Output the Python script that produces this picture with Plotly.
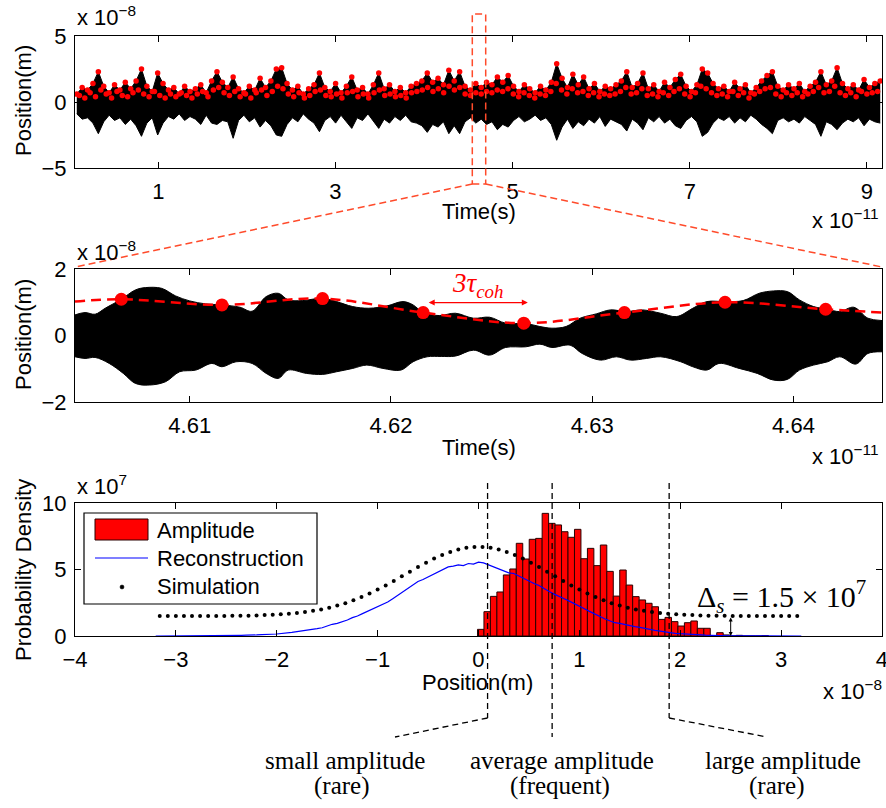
import numpy as np
import plotly.graph_objects as go

# ---------------- data ----------------
# top panel: full time trace (x 1e-11 s), envelope samples (x 1e-8 m)
top_t_range = [0.08, 9.15]
top_upper = [
    0.6, 1.1, 0.9, 1.4, 2.3, 1.2, 0.7, 1.3, 0.9, 1.5,
    1.0, 1.6, 2.5, 1.2, 0.8, 2.2, 1.4, 0.9, 1.1, 0.6,
    1.2, 0.8, 1.0, 1.3, 0.7, 1.6, 2.3, 1.5, 1.1, 1.9,
    1.0, 0.7, 1.2, 0.9, 1.8, 1.1, 1.6, 2.5, 2.6, 1.4,
    0.9, 1.2, 0.6, 1.0, 1.3, 2.2, 1.1, 0.8, 1.4, 0.7,
    1.2, 1.9, 0.9, 1.1, 0.6, 1.3, 2.2, 1.0, 1.3, 0.8,
    1.1, 0.7, 1.2, 1.4, 1.6, 2.2, 1.5, 1.8, 1.3, 2.4,
    1.6, 2.3, 1.2, 0.9, 1.4, 1.1, 1.5, 1.3, 1.9, 1.5,
    2.0, 1.2, 0.8, 1.3, 1.0, 0.7, 1.2, 0.9, 1.5, 2.9,
    1.8, 1.1, 2.1, 1.3, 1.9, 1.0, 1.4, 0.8, 1.2, 1.0,
    1.3, 1.6, 2.3, 1.1, 1.4, 2.2, 1.0, 1.3, 0.8, 1.5,
    1.1, 1.7, 2.1, 1.2, 0.8, 1.3, 2.5, 2.2, 1.4, 1.0,
    1.2, 0.8, 1.5, 1.0, 1.3, 0.7, 1.1, 1.6, 2.0, 2.3,
    1.2, 0.9, 1.3, 1.0, 1.4, 0.8, 1.2, 1.5, 2.3, 1.3,
    1.6, 2.6, 1.4, 1.0, 1.3, 0.9, 1.7, 1.1, 1.4, 1.6,
]
top_lower = [
    -0.9, -1.3, -1.2, -1.6, -2.4, -1.5, -1.0, -1.4, -1.2, -1.7,
    -1.3, -1.8, -2.6, -1.6, -1.2, -2.5, -1.6, -1.1, -1.3, -0.9,
    -1.4, -1.1, -1.3, -1.7, -1.0, -1.6, -1.7, -1.4, -1.5, -2.75,
    -1.4, -1.0, -1.5, -1.2, -1.9, -1.4, -1.8, -2.5, -2.6, -1.7,
    -1.2, -1.5, -0.9, -1.3, -1.6, -2.25, -1.4, -1.1, -1.6, -1.0,
    -1.5, -2.0, -1.2, -1.4, -0.9, -1.5, -2.0, -1.3, -1.6, -1.1,
    -1.4, -1.0, -1.5, -1.6, -1.8, -2.3, -1.7, -1.9, -1.5, -2.4,
    -1.8, -2.4, -1.5, -1.2, -1.6, -1.3, -1.7, -1.5, -2.1, -1.7,
    -1.9, -1.4, -1.1, -1.5, -1.3, -1.0, -1.4, -1.2, -1.7, -2.9,
    -1.9, -1.3, -2.0, -1.5, -1.8, -1.3, -1.6, -1.1, -1.85, -1.3,
    -1.5, -1.7, -2.2, -1.3, -1.6, -2.1, -1.2, -1.5, -1.1, -1.6,
    -1.3, -1.8, -2.0, -1.4, -1.1, -1.5, -2.6, -2.3, -1.6, -1.2,
    -1.4, -1.1, -1.6, -1.2, -1.5, -1.0, -1.3, -1.7, -2.0, -2.4,
    -1.4, -1.2, -1.5, -1.3, -1.6, -1.1, -1.4, -1.7, -2.6, -1.5,
    -1.7, -2.1, -1.6, -1.3, -1.5, -1.2, -1.8, -1.3, -1.5, -1.6,
]
# intermediate envelope samples (between the ones above)
top_mid_t_range = [0.11, 9.12]
top_mid_dots = [
    0.5, 0.3, 0.7, 0.4, 0.9, 0.6, 0.3, 0.8, 0.5, 0.4,
    0.7, 0.9, 0.6, 0.4, 0.8, 0.5, 0.3, 0.6, 0.4, 0.7,
    0.5, 0.3, 0.6, 0.8, 0.4, 0.9, 1.1, 0.7, 0.5, 0.8,
    0.4, 0.6, 0.3, 0.7, 0.9, 0.5, 0.8, 1.2, 1.0, 0.6,
    0.4, 0.7, 0.3, 0.5, 0.8, 0.9, 0.5, 0.4, 0.6, 0.3,
    0.7, 0.8, 0.4, 0.6, 0.3, 0.7, 0.9, 0.5, 0.6, 0.4,
    0.5, 0.3, 0.7, 0.8, 0.9, 1.1, 0.8, 1.0, 0.7, 1.2,
    0.9, 1.1, 0.6, 0.5, 0.7, 0.6, 0.8, 0.7, 0.9, 0.8,
    1.0, 0.6, 0.4, 0.7, 0.5, 0.3, 0.6, 0.5, 0.8, 1.4,
    0.9, 0.6, 1.0, 0.7, 0.8, 0.5, 0.7, 0.4, 0.6, 0.5,
    0.6, 0.8, 1.1, 0.6, 0.7, 1.0, 0.5, 0.6, 0.4, 0.7,
    0.5, 0.8, 1.0, 0.6, 0.4, 0.7, 1.2, 1.0, 0.7, 0.5,
    0.6, 0.4, 0.8, 0.5, 0.7, 0.3, 0.6, 0.8, 1.0, 1.1,
    0.6, 0.4, 0.7, 0.5, 0.7, 0.4, 0.6, 0.8, 1.1, 0.7,
    0.8, 1.2, 0.7, 0.5, 0.7, 0.4, 0.8, 0.6, 0.7, 0.8,
]

# middle panel: zoom on 4.604-4.644 (x 1e-11 s)
mid_up_t = [4.6043, 4.6048, 4.6053, 4.6058, 4.6066, 4.6073, 4.6078, 4.6086, 4.6093, 4.6100,
            4.6108, 4.6116, 4.6125, 4.6131, 4.6138, 4.6144, 4.6149, 4.6156, 4.6166, 4.6173,
            4.6181, 4.6189, 4.6198, 4.6206, 4.6211, 4.6216, 4.6224, 4.6232, 4.6241, 4.6249,
            4.6257, 4.6267, 4.6274, 4.6280, 4.6287, 4.6294, 4.6302, 4.6309, 4.6317, 4.6325,
            4.6334, 4.6342, 4.6350, 4.6357, 4.6366, 4.6375, 4.6383, 4.6390, 4.6397, 4.6403,
            4.6410, 4.6417, 4.6423, 4.6430, 4.6437, 4.6444]
mid_up = [0.62, 0.69, 0.64, 0.82, 1.09, 1.37, 1.44, 1.42, 1.19, 1.04,
          0.95, 0.92, 0.85, 0.73, 1.17, 1.27, 1.07, 1.05, 1.12, 1.02,
          0.87, 0.82, 0.89, 1.02, 0.92, 0.69, 0.60, 0.67, 0.52, 0.55,
          0.37, 0.36, 0.27, 0.22, 0.27, 0.52, 0.65, 0.77, 0.72, 0.77,
          0.67, 0.57, 0.82, 1.02, 1.02, 1.05, 1.27, 1.34, 1.32, 1.07,
          0.87, 0.79, 0.72, 0.85, 0.52, 0.45]
mid_lo_t = [4.6043, 4.6048, 4.6053, 4.6060, 4.6067, 4.6073, 4.6080, 4.6088, 4.6095, 4.6103,
            4.6111, 4.6116, 4.6123, 4.6131, 4.6138, 4.6144, 4.6149, 4.6158, 4.6166, 4.6173,
            4.6181, 4.6188, 4.6196, 4.6205, 4.6211, 4.6218, 4.6225, 4.6232, 4.6241, 4.6249,
            4.6257, 4.6267, 4.6274, 4.6280, 4.6289, 4.6295, 4.6304, 4.6312, 4.6319, 4.6327,
            4.6334, 4.6344, 4.6350, 4.6357, 4.6363, 4.6373, 4.6382, 4.6390, 4.6397, 4.6403,
            4.6410, 4.6417, 4.6423, 4.6431, 4.6437, 4.6444]
mid_lo = [-0.64, -0.69, -0.66, -0.84, -1.14, -1.44, -1.49, -1.39, -1.09, -1.04,
          -0.84, -0.94, -0.79, -0.84, -1.14, -1.29, -1.04, -1.14, -1.17, -1.09,
          -0.99, -0.89, -0.99, -1.04, -0.79, -0.64, -0.63, -0.62, -0.44, -0.59,
          -0.36, -0.34, -0.26, -0.36, -0.29, -0.54, -0.74, -0.64, -0.74, -0.69,
          -0.64, -0.79, -0.94, -1.04, -0.84, -0.99, -1.14, -1.34, -1.32, -1.04,
          -0.89, -0.79, -0.64, -0.86, -0.54, -0.49]
mid_dot_t = [4.6066, 4.6116, 4.6166, 4.6216, 4.6266, 4.6316, 4.6366, 4.6416]
mid_dot_v = [1.09, 0.92, 1.11, 0.69, 0.37, 0.69, 1.00, 0.79]
mid_curve_t = [4.6043] + mid_dot_t + [4.6444]
mid_curve_v = [1.02] + mid_dot_v + [0.69]
tau_span = [4.6218, 4.6268]

# bottom panel: probability densities (x 1e7) vs position (x 1e-8 m)
hist_start = -0.01
hist_width = 0.0641
hist_vals = [0.5, 1.83, 2.98, 3.31, 4.59, 5.04, 6.97, 5.79, 7.27, 7.34,
             9.22, 8.47, 8.35, 7.84, 7.42, 8.02, 5.81, 6.59, 5.29, 6.84,
             4.86, 3.0, 4.96, 3.83, 2.96, 2.71, 2.46, 2.2, 1.25, 1.40,
             1.08, 0.75, 1.0, 1.13, 0.58, 0.58, 0.0, 0.25, 0.08, 0.0,
             0.05, 0.0, 0.0, 0.0, 0.03]
recon_range = [-3.2, 3.2]
recon_vals = [0.00, 0.00, 0.00, 0.01, 0.00, 0.01, 0.01, 0.00, 0.01, 0.02,
              0.01, 0.02, 0.02, 0.03, 0.02, 0.04, 0.03, 0.05, 0.06, 0.05,
              0.08, 0.10, 0.09, 0.13, 0.15, 0.18, 0.22, 0.27, 0.33, 0.40,
              0.43, 0.50, 0.55, 0.62, 0.75, 0.88, 0.95, 1.05, 1.20, 1.38,
              1.50, 1.68, 1.85, 1.98, 2.15, 2.32, 2.55, 2.80, 3.05, 3.35,
              3.60, 3.85, 4.10, 4.25, 4.45, 4.65, 4.85, 5.05, 5.20, 5.25,
              5.35, 5.30, 5.45, 5.40, 5.55, 5.50, 5.35, 5.20, 5.05, 4.95,
              4.75, 4.70, 4.50, 4.35, 4.15, 3.95, 3.80, 3.55, 3.35, 3.15,
              3.00, 2.80, 2.62, 2.45, 2.25, 2.05, 1.85, 1.65, 1.45, 1.30,
              1.15, 1.00, 0.95, 0.85, 0.75, 0.70, 0.65, 0.55, 0.50, 0.42,
              0.38, 0.30, 0.25, 0.20, 0.17, 0.14, 0.12, 0.10, 0.08, 0.06,
              0.05, 0.03, 0.03, 0.02, 0.02, 0.01, 0.01, 0.01, 0.00, 0.00,
              0.00, 0.00, 0.00, 0.00, 0.00, 0.00, 0.00, 0.00, 0.00]
sim_range = [-3.16, 3.16]
sim_vals = [1.50, 1.50, 1.50, 1.50, 1.50, 1.50, 1.51, 1.51, 1.51, 1.52,
            1.52, 1.53, 1.55, 1.57, 1.59, 1.63, 1.67, 1.73, 1.80, 1.89,
            2.00, 2.13, 2.29, 2.47, 2.69, 2.93, 3.19, 3.49, 3.80, 4.14,
            4.49, 4.83, 5.18, 5.51, 5.82, 6.09, 6.32, 6.50, 6.63, 6.69,
            6.69, 6.63, 6.50, 6.32, 6.09, 5.82, 5.51, 5.18, 4.83, 4.49,
            4.14, 3.80, 3.49, 3.19, 2.93, 2.69, 2.47, 2.29, 2.13, 2.00,
            1.89, 1.80, 1.73, 1.67, 1.63, 1.59, 1.57, 1.55, 1.53, 1.52,
            1.52, 1.51, 1.51, 1.51, 1.50, 1.50, 1.50, 1.50, 1.50, 1.50]
thresholds = [0.09, 0.73, 1.89]
delta_s = 1.5
delta_x = 2.5
legend_names = ["Amplitude", "Reconstruction", "Simulation"]

# ---------------- layout helpers ----------------
W, H = 886, 808
FONT = "Liberation Sans, Arial, sans-serif"
SERIF = "Liberation Serif, Times New Roman, serif"
RED = "#FF0000"
BLUE = "#0000FF"
ORANGE = "#FF4B2B"
EDGE = "#2a0000"


def PX(x):
    return x / W


def PY(y):
    return 1 - y / H


L, R = 75, 882
P1, P2, P3 = (36, 168), (269, 402), (503, 636)

t_top = np.linspace(top_t_range[0], top_t_range[1], len(top_upper))
t_top_mid = np.linspace(top_mid_t_range[0], top_mid_t_range[1], len(top_mid_dots))
recon_x = np.linspace(recon_range[0], recon_range[1], len(recon_vals))
sim_x = np.linspace(sim_range[0], sim_range[1], len(sim_vals))
hist_x = hist_start + hist_width * (np.arange(len(hist_vals)) + 0.5)

fig = go.Figure()
nl = dict(showlegend=False, hoverinfo="skip")

# top panel
fig.add_trace(go.Scatter(x=t_top, y=top_lower, mode="lines", line=dict(color="black", width=1),
                         xaxis="x", yaxis="y", **nl))
fig.add_trace(go.Scatter(x=t_top, y=top_upper, mode="lines", line=dict(color="black", width=1),
                         fill="tonexty", fillcolor="black", xaxis="x", yaxis="y", **nl))
fig.add_trace(go.Scatter(x=t_top_mid, y=top_mid_dots, mode="markers", marker=dict(color=RED, size=5.5),
                         xaxis="x", yaxis="y", **nl))
fig.add_trace(go.Scatter(x=t_top, y=top_upper, mode="markers", marker=dict(color=RED, size=5.5),
                         xaxis="x", yaxis="y", **nl))

# middle panel
fig.add_trace(go.Scatter(x=mid_lo_t, y=mid_lo, mode="lines", line=dict(color="black", width=1, shape="spline"),
                         xaxis="x2", yaxis="y2", **nl))
fig.add_trace(go.Scatter(x=mid_up_t, y=mid_up, mode="lines", line=dict(color="black", width=1, shape="spline"),
                         fill="tonexty", fillcolor="black", xaxis="x2", yaxis="y2", **nl))
fig.add_trace(go.Scatter(x=mid_curve_t, y=mid_curve_v, mode="lines",
                         line=dict(color=RED, width=2.5, dash="10px,6px", shape="spline", smoothing=1.0),
                         xaxis="x2", yaxis="y2", **nl))
fig.add_trace(go.Scatter(x=mid_dot_t, y=mid_dot_v, mode="markers", marker=dict(color=RED, size=13),
                         xaxis="x2", yaxis="y2", **nl))

# bottom panel
fig.add_trace(go.Bar(x=hist_x, y=hist_vals, width=hist_width, name=legend_names[0],
                     marker=dict(color=RED, line=dict(color=EDGE, width=1)),
                     xaxis="x3", yaxis="y3", **nl))
fig.add_trace(go.Scatter(x=recon_x, y=recon_vals, mode="lines", name=legend_names[1],
                         line=dict(color=BLUE, width=1.2), xaxis="x3", yaxis="y3", **nl))
fig.add_trace(go.Scatter(x=sim_x, y=sim_vals, mode="markers", name=legend_names[2],
                         marker=dict(color="black", size=4), xaxis="x3", yaxis="y3", **nl))

ax = dict(showline=True, linecolor="black", linewidth=1.2, mirror="allticks", ticks="inside",
          ticklen=6, tickwidth=1.1, tickcolor="black", showgrid=False, zeroline=False,
          automargin=False, ticklabeloverflow="allow",
          tickfont=dict(family=FONT, size=22, color="black"), ticklabelstandoff=3)

fig.update_layout(
    width=W, height=H, autosize=False,
    margin=dict(l=0, r=0, t=0, b=0, pad=0, autoexpand=False),
    paper_bgcolor="white", plot_bgcolor="white",
    font=dict(family=FONT, size=22, color="black"),
    barmode="overlay", showlegend=False,
    xaxis=dict(domain=[PX(L), PX(R)], anchor="y", range=[0.06, 9.17],
               tickvals=[1, 3, 5, 7, 9], **ax),
    yaxis=dict(domain=[PY(P1[1]), PY(P1[0])], anchor="x", range=[-5, 5],
               tickvals=[-5, 0, 5], **ax),
    xaxis2=dict(domain=[PX(L), PX(R)], anchor="y2", range=[4.6043, 4.6444],
                tickvals=[4.61, 4.62, 4.63, 4.64], ticktext=["4.61", "4.62", "4.63", "4.64"], **ax),
    yaxis2=dict(domain=[PY(P2[1]), PY(P2[0])], anchor="x2", range=[-2, 2],
                tickvals=[-2, 0, 2], **ax),
    xaxis3=dict(domain=[PX(L), PX(R)], anchor="y3", range=[-4, 4.0001],
                tickvals=[-4, -3, -2, -1, 0, 1, 2, 3, 4], **ax),
    yaxis3=dict(domain=[PY(P3[1]), PY(P3[0])], anchor="x3", range=[0, 10],
                tickvals=[0, 5, 10], **ax),
)

ann = []


def text(x, y, s, xanchor="center", yanchor="middle", size=22, family=FONT, color="black", angle=0):
    ann.append(dict(x=PX(x), y=PY(y), xref="paper", yref="paper", text=s, showarrow=False,
                    xanchor=xanchor, yanchor=yanchor, textangle=angle,
                    font=dict(family=family, size=size, color=color)))


# exponent labels
text(75, 32, "x 10<sup>−8</sup>", xanchor="left", yanchor="bottom")
text(75, 267, "x 10<sup>−8</sup>", xanchor="left", yanchor="bottom")
text(75, 501, "x 10<sup>7</sup>", xanchor="left", yanchor="bottom")
text(881, 235, "x 10<sup>−11</sup>", xanchor="right", yanchor="bottom")
text(881, 471, "x 10<sup>−11</sup>", xanchor="right", yanchor="bottom")
text(884, 706, "x 10<sup>−8</sup>", xanchor="right", yanchor="bottom")
# axis titles
text(479, 211, "Time(s)")
text(479, 447, "Time(s)")
text(478, 682, "Position(m)")
text(23, 101, "Position(m)", angle=-90)
text(23, 335, "Position(m)", angle=-90)
text(23, 570, "Probability Density", angle=-90)
# bottom labels
text(345, 760, "small amplitude", size=25, family=SERIF)
text(342, 786, "(rare)", size=25, family=SERIF)
text(562, 760, "average amplitude", size=25, family=SERIF)
text(560, 786, "(frequent)", size=25, family=SERIF)
text(783, 760, "large amplitude", size=25, family=SERIF)
text(777, 786, "(rare)", size=25, family=SERIF)
# legend texts
text(155, 530, legend_names[0], xanchor="left")
text(155, 558, legend_names[1], xanchor="left")
text(155, 586, legend_names[2], xanchor="left")

# 3 tau_coh
ann.append(dict(x=tau_span[1], y=0.99, ax=tau_span[0], ay=0.99, xref="x2", yref="y2",
                axref="x2", ayref="y2", text="", showarrow=True, arrowhead=2, arrowsize=1,
                arrowwidth=1.2, arrowcolor=RED, arrowside="end+start"))
ann.append(dict(x=sum(tau_span) / 2, y=1.52, xref="x2", yref="y2", showarrow=False,
                text="<i>3τ<sub>coh</sub></i>", font=dict(family=SERIF, size=27, color=RED)))
# delta_s
ann.append(dict(x=delta_x, y=0, ax=delta_x, ay=delta_s, xref="x3", yref="y3", axref="x3",
                ayref="y3", text="", showarrow=True, arrowhead=2, arrowsize=0.8, arrowwidth=1,
                arrowcolor="black", arrowside="end+start"))
ann.append(dict(x=3.0, y=3.0, xref="x3", yref="y3", showarrow=False,
                text="Δ<sub><i>s</i></sub> = 1.5 × 10<sup>7</sup>",
                font=dict(family=SERIF, size=30, color="black")))
fig.update_layout(annotations=ann)

# shapes
shapes = []
dash_o = dict(color=ORANGE, width=1.5, dash="7px,4px")
shapes.append(dict(type="rect", xref="paper", yref="paper", x0=PX(472.3), x1=PX(485.7),
                   y0=PY(184), y1=PY(14), line=dash_o, layer="above"))
shapes.append(dict(type="line", xref="paper", yref="paper", x0=PX(472.3), y0=PY(184),
                   x1=PX(L), y1=PY(267), line=dash_o, layer="above"))
shapes.append(dict(type="line", xref="paper", yref="paper", x0=PX(485.7), y0=PY(184),
                   x1=PX(R), y1=PY(267), line=dash_o, layer="above"))

dash_k = dict(color="black", width=1.3, dash="6px,4px")
thr_px = [L + (t + 4) / 8 * (R - L) for t in thresholds]
ends = [(395, 737), None, (767, 737)]
for xp, end in zip(thr_px, ends):
    ybot = 718 if end else 737
    shapes.append(dict(type="line", xref="paper", yref="paper", x0=PX(xp), x1=PX(xp),
                       y0=PY(483), y1=PY(ybot), line=dash_k, layer="above"))
    if end:
        shapes.append(dict(type="line", xref="paper", yref="paper", x0=PX(xp), y0=PY(718),
                           x1=PX(end[0]), y1=PY(end[1]), line=dash_k, layer="above"))

# legend box (drawn above the data)
shapes.append(dict(type="rect", xref="paper", yref="paper", x0=PX(84), x1=PX(317),
                   y0=PY(604), y1=PY(513), line=dict(color="black", width=1.2),
                   fillcolor="white", layer="above"))
shapes.append(dict(type="rect", xref="paper", yref="paper", x0=PX(95), x1=PX(148),
                   y0=PY(540), y1=PY(519), line=dict(color=EDGE, width=1),
                   fillcolor=RED, layer="above"))
shapes.append(dict(type="line", xref="paper", yref="paper", x0=PX(95), x1=PX(148),
                   y0=PY(558), y1=PY(558), line=dict(color=BLUE, width=1.2), layer="above"))
shapes.append(dict(type="circle", xref="paper", yref="paper", x0=PX(120), x1=PX(124),
                   y0=PY(589), y1=PY(585), line=dict(color="black", width=0.5),
                   fillcolor="black", layer="above"))
fig.update_layout(shapes=shapes)

fig.write_html("out.html", config={"displayModeBar": False, "responsive": False},
               post_script="document.body.style.margin='0px';")
